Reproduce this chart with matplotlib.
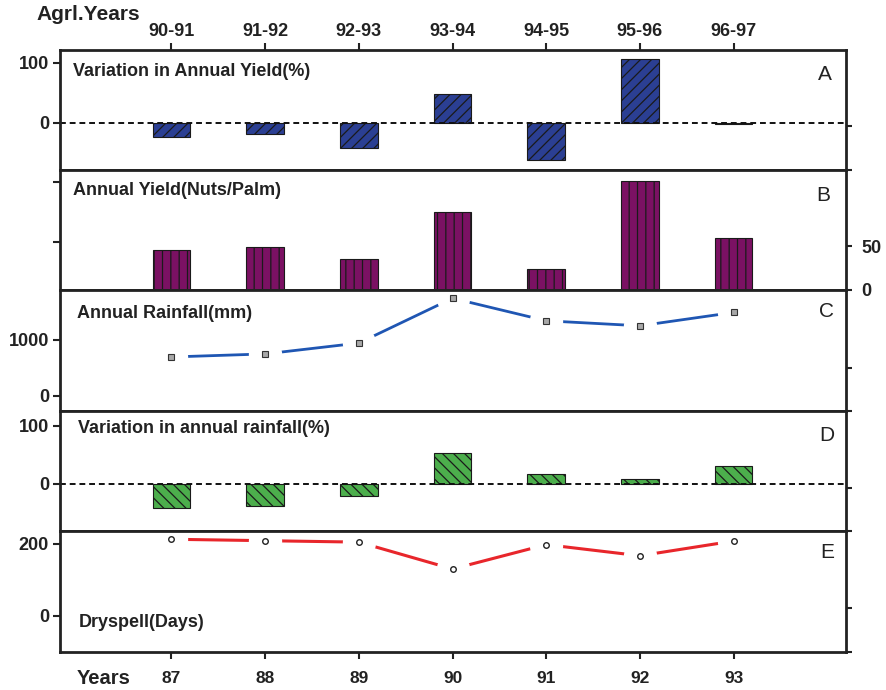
import numpy as np
import matplotlib
matplotlib.use("Agg")
from matplotlib import pyplot as plt

plt.rcParams['font.family'] = ['Liberation Sans', 'DejaVu Sans']
plt.rcParams['hatch.linewidth'] = 0.9

# Data
agrl_years = ['90-91', '91-92', '92-93', '93-94', '94-95', '95-96', '96-97']
years = ['87', '88', '89', '90', '91', '92', '93']
yield_variation = [-24, -19, -43, 47, -62, 106, -2]          # %
annual_yield = [46, 49, 35, 89, 23.5, 125, 59.5]              # nuts/palm
annual_rainfall = [695, 750, 945, 1750, 1345, 1255, 1495]     # mm
rainfall_variation = [-41, -38, -21, 53, 17, 8, 30]           # %
dryspell = [213, 209, 205, 130, 198, 167, 208]                # days

x = np.arange(len(years))
W, H = 886, 690
fig = plt.figure(figsize=(W / 100, H / 100), dpi=100)

left, right = 60, 846
edges = [50, 170, 290, 410.7, 531, 651.7]
axes = []
for top, bot in zip(edges[:-1], edges[1:]):
    ax = fig.add_axes([left / W, 1 - bot / H, (right - left) / W, (bot - top) / H])
    ax.set_xlim(-1.19, 7.2)
    for s in ax.spines.values():
        s.set_linewidth(2)
        s.set_color('#222222')
        s.set_zorder(5)
    ax.tick_params(axis='both', which='both', direction='out', length=5, width=1.5,
                   color='#222222', pad=3)
    ax.tick_params(axis='x', bottom=False, labelbottom=False)
    axes.append(ax)
axA, axB, axC, axD, axE = axes
label_kw = dict(fontsize=13, fontweight='bold', color='#222222')
title_kw = dict(fontsize=13, fontweight='bold', color='#222222', va='center', ha='left')
letter_kw = dict(fontsize=15, color='#222222', va='center', ha='center')


def right_ticks(ax, vals):
    r = ax.secondary_yaxis('right')
    r.set_yticks(vals)
    r.set_yticklabels([])
    r.spines['right'].set_visible(False)
    r.tick_params(direction='out', length=4, width=1.5, color='#222222')
    return r


# A: variation in annual yield
axA.bar(x, yield_variation, width=0.4, color='#2b3f93', edgecolor='#1a1a1a',
        linewidth=0.8, hatch='///', zorder=3)
axA.axhline(0, color='#111111', ls=(0, (3, 2)), lw=1.4, zorder=4)
axA.set_ylim(-79, 121)
axA.set_yticks([0, 100])
axA.set_yticklabels(['0', '100'], **label_kw)
axA.tick_params(axis='x', top=True, labeltop=True, pad=2)
axA.set_xticks(x)
axA.set_xticklabels(agrl_years, **label_kw)
right_ticks(axA, [-6, -79])
axA.text(0.0165, 0.817, 'Variation in Annual Yield(%)', transform=axA.transAxes, **title_kw)
axA.text(0.973, 0.80, 'A', transform=axA.transAxes, **letter_kw)

# B: annual yield
axB.bar(x, annual_yield, width=0.4, color='#7b1163', edgecolor='#1a1a1a',
        linewidth=0.8, hatch='||', zorder=3)
axB.set_ylim(0, 137)
axB.set_yticks([55, 123])
axB.set_yticklabels([])
rB = axB.secondary_yaxis('right')
rB.set_yticks([0, 50])
rB.set_yticklabels(['0', '50'], **label_kw)
rB.spines['right'].set_visible(False)
rB.tick_params(direction='out', length=4, width=1.5, color='#222222', pad=7)
axB.text(0.0165, 0.8275, 'Annual Yield(Nuts/Palm)', transform=axB.transAxes, **title_kw)
axB.text(0.971, 0.79, 'B', transform=axB.transAxes, **letter_kw)

# C: annual rainfall
axC.plot(x, annual_rainfall, color='#1f56b3', lw=2, zorder=2)
axC.plot(x, annual_rainfall, ls='none', marker='o', ms=24, mfc='white', mec='none', zorder=2.2)
axC.plot(x, annual_rainfall, ls='none', marker='s', ms=5, mfc='#a8a8a8', mec='#333333',
         mew=0.8, zorder=3)
axC.set_ylim(-270, 1898)
axC.set_yticks([0, 1000])
axC.set_yticklabels(['0', '1000'], **label_kw)
right_ticks(axC, [500, -270])
axC.text(0.0216, 0.809, 'Annual Rainfall(mm)', transform=axC.transAxes, **title_kw)
axC.text(0.975, 0.818, 'C', transform=axC.transAxes, **letter_kw)

# D: variation in annual rainfall
axD.bar(x, rainfall_variation, width=0.4, color='#4cae4c', edgecolor='#1a1a1a',
        linewidth=0.8, hatch='\\\\\\', zorder=3)
axD.axhline(0, color='#111111', ls=(0, (3, 2)), lw=1.4, zorder=4)
axD.set_ylim(-81.5, 126)
axD.set_yticks([0, 100])
axD.set_yticklabels(['0', '100'], **label_kw)
right_ticks(axD, [-7, -81.5])
axD.text(0.0229, 0.848, 'Variation in annual rainfall(%)', transform=axD.transAxes, **title_kw)
axD.text(0.975, 0.798, 'D', transform=axD.transAxes, **letter_kw)

# E: dryspell
axE.plot(x, dryspell, color='#e8262b', lw=2.2, zorder=2)
axE.plot(x, dryspell, ls='none', marker='o', ms=24, mfc='white', mec='none', zorder=2.2)
axE.plot(x, dryspell, ls='none', marker='o', ms=4, mfc='white', mec='#222222',
         mew=1, zorder=3)
axE.set_ylim(-100.5, 236)
axE.set_yticks([0, 200])
axE.set_yticklabels(['0', '200'], **label_kw)
axE.tick_params(axis='x', bottom=True, labelbottom=True, pad=9)
axE.set_xticks(x)
axE.set_xticklabels(years, fontsize=12.5, fontweight='bold', color='#222222')
right_ticks(axE, [20, -100.5])
axE.text(0.0242, 0.246, 'Dryspell(Days)', transform=axE.transAxes, **title_kw)
axE.text(0.976, 0.818, 'E', transform=axE.transAxes, **letter_kw)

fig.text(36 / W, 1 - 14 / H, 'Agrl.Years', fontsize=15, fontweight='bold',
         color='#222222', va='center', ha='left')
fig.text(77 / W, 1 - 678 / H, 'Years', fontsize=14.5, fontweight='bold',
         color='#222222', va='center', ha='left')

fig.savefig('out.png', dpi=100)
